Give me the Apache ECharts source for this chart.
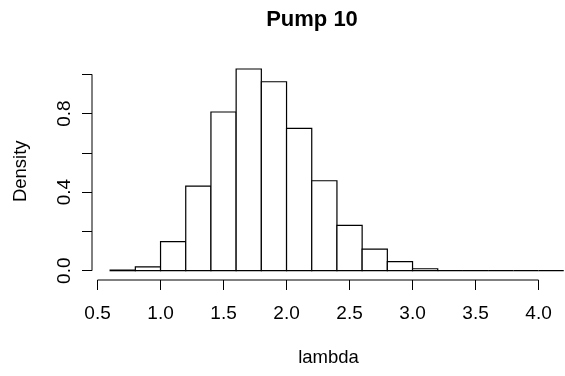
<!DOCTYPE html>
<html>
<head>
<meta charset="utf-8">
<script src="https://cdn.jsdelivr.net/npm/echarts@6/dist/echarts.min.js"></script>
<style>
  html, body { margin: 0; padding: 0; background: #fff; }
  #chart { width: 565px; height: 376px; }
</style>
</head>
<body>
<div id="chart"></div>
<script>
// histogram bins (lambda) and their densities
const binStarts = [0.6, 0.8, 1.0, 1.2, 1.4, 1.6, 1.8, 2.0, 2.2, 2.4, 2.6, 2.8, 3.0, 3.2, 3.4, 3.6, 3.8, 4.0]
const binWidth = 0.2
const densities = [0.003, 0.019, 0.148, 0.431, 0.808, 1.027, 0.962, 0.725, 0.458, 0.231, 0.110, 0.046, 0.010, 0, 0, 0, 0, 0]

const xTicks = [0.5, 1.0, 1.5, 2.0, 2.5, 3.0, 3.5, 4.0]
const yTicks = [0, 0.2, 0.4, 0.6, 0.8, 1.0]
const yLabels = [0, 0.4, 0.8]

// plot region limits (R style, 4% padding; right side cut off by the image)
const xMin = 0.456
const xMax = 4.21
const yMin = -0.0474
const yMax = 1.06

const font = 'Liberation Sans, Arial, Helvetica, sans-serif'

const chart = echarts.init(document.getElementById('chart'))

const bins = binStarts.map((s, i) => [s, s + binWidth, densities[i]])

const option = {
  animation: false,
  backgroundColor: '#fff',
  title: {
    text: 'Pump 10',
    left: 312,
    top: 9,
    padding: 0,
    textAlign: 'center',
    textStyle: { fontFamily: font, fontSize: 22, fontWeight: 'bold', color: '#000' },
  },
  grid: { left: 92, right: 0, top: 62.5, bottom: 96 },
  xAxis: {
    type: 'value',
    min: xMin,
    max: xMax,
    name: 'lambda',
    nameLocation: 'middle',
    nameGap: 68,
    nameTextStyle: { fontFamily: font, fontSize: 18.5, color: '#000' },
    axisLine: { show: false, onZero: false },
    axisTick: { show: true, length: 10, customValues: xTicks, lineStyle: { color: '#000', width: 1 } },
    axisLabel: {
      customValues: xTicks,
      margin: 24,
      fontFamily: font,
      fontSize: 19,
      color: '#000',
      formatter: (v) => v.toFixed(1),
    },
    splitLine: { show: false },
  },
  yAxis: {
    type: 'value',
    min: yMin,
    max: yMax,
    name: 'Density',
    nameLocation: 'middle',
    nameRotate: 90,
    nameGap: 62,
    nameTextStyle: { fontFamily: font, fontSize: 18.5, color: '#000' },
    axisLine: { show: false, onZero: false },
    axisTick: { show: true, length: 10, customValues: yTicks, lineStyle: { color: '#000', width: 1 } },
    axisLabel: {
      customValues: yLabels,
      rotate: 90,
      margin: 18,
      fontFamily: font,
      fontSize: 19,
      color: '#000',
      formatter: (v) => v.toFixed(1),
    },
    splitLine: { show: false },
  },
  series: [
    {
      name: 'lambda',
      type: 'custom',
      data: bins,
      renderItem: (params, api) => {
        const p0 = api.coord([api.value(0), api.value(2)])
        const p1 = api.coord([api.value(1), 0])
        return {
          type: 'rect',
          shape: { x: p0[0], y: p0[1], width: p1[0] - p0[0], height: p1[1] - p0[1] },
          style: { fill: '#fff', stroke: '#000', lineWidth: 1.2 },
        }
      },
    },
    {
      // R-style axis lines that run from the first to the last tick
      name: 'axes',
      type: 'custom',
      clip: false,
      silent: true,
      data: [[0]],
      renderItem: (params, api) => {
        const xa = api.coord([xTicks[0], yMin])
        const xb = api.coord([xTicks[xTicks.length - 1], yMin])
        const ya = api.coord([xMin, yTicks[0]])
        const yb = api.coord([xMin, yTicks[yTicks.length - 1]])
        return {
          type: 'group',
          children: [
            { type: 'line', shape: { x1: xa[0], y1: xa[1], x2: xb[0], y2: xb[1] }, style: { stroke: '#000', lineWidth: 1 } },
            { type: 'line', shape: { x1: ya[0], y1: ya[1], x2: yb[0], y2: yb[1] }, style: { stroke: '#000', lineWidth: 1 } },
          ],
        }
      },
    },
  ],
}

chart.setOption(option)
</script>
</body>
</html>
